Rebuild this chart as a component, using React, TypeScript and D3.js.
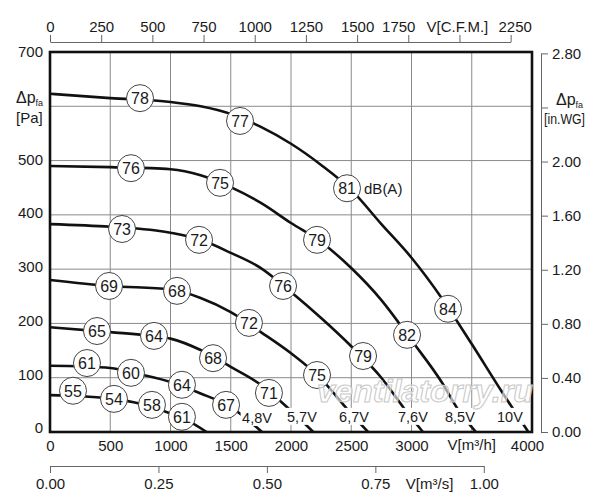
import * as d3 from "d3";
import { useEffect, useRef } from "react";

const W = 600;
const H = 500;
const FONT = "'Liberation Sans', Arial, Helvetica, sans-serif";
const CFM_TO_M3H = 1.699;
const INWG_TO_PA = 249.09;

// axis ticks
const flowTicks = [0, 500, 1000, 1500, 2000, 2500, 3000, 3500, 4000];
const paTicks = [0, 100, 200, 300, 400, 500, 600, 700];
const inwgTicks = [0, 0.4, 0.8, 1.2, 1.6, 2.0, 2.4, 2.8];
const cfmTicks = [0, 250, 500, 750, 1000, 1250, 1500, 1750, 2000, 2250];
const m3sTicks = [0, 0.25, 0.5, 0.75, 1.0];

// fan curves, [V m3/h, dp Pa]
const curve10V = [[0, 623], [500, 615], [1000, 608], [1250, 600], [1500, 586], [1750, 562], [2000, 531], [2250, 492], [2500, 446], [2750, 383], [3000, 321], [3250, 247], [3500, 162], [3750, 74], [3970, 0]];
const curve85V = [[0, 490], [500, 488], [1000, 484], [1250, 473], [1500, 451], [1750, 422], [2000, 385], [2250, 350], [2500, 302], [2750, 243], [3000, 169], [3250, 92], [3390, 40], [3535, 0]];
const curve76V = [[0, 383], [500, 378], [1000, 367], [1250, 354], [1500, 330], [1750, 302], [2000, 258], [2250, 210], [2500, 158], [2750, 100], [2950, 40], [3095, 0]];
const curve67V = [[0, 280], [500, 269], [1000, 263], [1250, 247], [1500, 221], [1750, 184], [2000, 145], [2250, 98], [2475, 40], [2640, 0]];
const curve57V = [[0, 193], [500, 184], [850, 177], [1000, 172], [1250, 151], [1500, 120], [1750, 87], [2000, 39], [2185, 0]];
const curve48V = [[0, 122], [250, 121], [500, 118], [750, 106], [1000, 92], [1250, 71], [1500, 46], [1760, 0]];
const curveLow = [[0, 68], [250, 66], [500, 62], [750, 52], [1000, 34], [1150, 20], [1300, 0]];

// sound level markers, [V m3/h, dp Pa, dB(A)]
const dba10V = [[747, 615, 78], [1577, 573, 77], [2465, 449, 81], [3303, 227, 84]];
const dba85V = [[672, 486, 76], [1411, 459, 75], [2216, 354, 79], [2963, 179, 82]];
const dba76V = [[598, 374, 73], [1237, 354, 72], [1934, 269, 76], [2598, 140, 79]];
const dba67V = [[490, 269, 69], [1054, 260, 68], [1651, 201, 72], [2216, 105, 75]];
const dba57V = [[390, 186, 65], [863, 177, 64], [1353, 136, 68], [1817, 72, 71]];
const dba48V = [[307, 127, 61], [672, 109, 60], [1095, 87, 64], [1461, 50, 67]];
const dbaLow = [[191, 76, 55], [531, 61, 54], [846, 50, 58], [1095, 28, 61]];

// voltage labels, [V m3/h, dp Pa]
const voltNames = ["4,8V", "5,7V", "6,7V", "7,6V", "8,5V", "10V"];
const voltPos = [[1718, 26], [2091, 28], [2523, 28], [3012, 28], [3402, 28], [3817, 28]];

export default function App() {
  const ref = useRef<SVGSVGElement>(null);

  useEffect(() => {
    if (!ref.current) return;
    const svg = d3.select(ref.current);
    svg.selectAll("*").remove();

    const x = d3.scaleLinear().domain([0, 4000]).range([50, 532]);
    const y = d3.scaleLinear().domain([0, 700]).range([432, 52]);
    const yLab = d3.scaleLinear().domain([0, 700]).range([428, 52]);
    const xCfm = d3.scaleLinear().domain([0, 2250]).range([x(0), x(2250 * CFM_TO_M3H)]);
    const xM3s = d3.scaleLinear().domain([0, 1]).range([x(0), x(3600)]);
    const yIn = d3.scaleLinear().domain([0, 2.8]).range([y(0), y(2.8 * INWG_TO_PA)]);

    svg.append("rect").attr("width", W).attr("height", H).attr("fill", "#fff");

    // grid
    const grid = svg.append("g").attr("stroke", "#8a8a8a").attr("stroke-width", 1);
    grid.selectAll(".gv")
      .data(flowTicks.slice(1, -1))
      .join("line")
      .attr("class", "gv")
      .attr("x1", (d) => x(d)).attr("x2", (d) => x(d))
      .attr("y1", y(0)).attr("y2", y(700));
    grid.selectAll(".gh")
      .data(paTicks.slice(1, -1))
      .join("line")
      .attr("class", "gh")
      .attr("x1", x(0)).attr("x2", x(4000))
      .attr("y1", (d) => y(d)).attr("y2", (d) => y(d));

    const series = [
      { pts: curveLow, dba: dbaLow },
      { pts: curve48V, dba: dba48V },
      { pts: curve57V, dba: dba57V },
      { pts: curve67V, dba: dba67V },
      { pts: curve76V, dba: dba76V },
      { pts: curve85V, dba: dba85V },
      { pts: curve10V, dba: dba10V },
    ];

    const line = d3.line<number[]>()
      .x((d) => x(d[0]))
      .y((d) => y(d[1]))
      .curve(d3.curveMonotoneX);

    svg.append("g")
      .selectAll("path")
      .data(series)
      .join("path")
      .attr("d", (s) => line(s.pts))
      .attr("fill", "none")
      .attr("stroke", "#111")
      .attr("stroke-width", 2.6);

    // voltage labels with white box that breaks the curve
    voltNames.forEach((name, i) => {
      const g = svg.append("g");
      const t = g.append("text")
        .attr("x", x(voltPos[i][0]))
        .attr("y", y(voltPos[i][1]))
        .attr("dy", "0.35em")
        .attr("text-anchor", "middle")
        .attr("font-family", FONT)
        .attr("font-size", 14.5)
        .attr("fill", "#1a1a1a")
        .text(name);
      const b = (t.node() as SVGTextElement).getBBox();
      g.insert("rect", "text")
        .attr("x", b.x - 1.5)
        .attr("y", b.y - 1)
        .attr("width", b.width + 3)
        .attr("height", b.height + 1)
        .attr("fill", "#fff");
    });

    // dB(A) markers
    const marks = svg.append("g");
    series.forEach((s) => {
      const m = marks.selectAll(null)
        .data(s.dba)
        .join("g")
        .attr("transform", (d) => `translate(${x(d[0])},${y(d[1])})`);
      m.append("circle")
        .attr("r", 13.5)
        .attr("fill", "#fff")
        .attr("stroke", "#444")
        .attr("stroke-width", 1);
      m.append("text")
        .attr("text-anchor", "middle")
        .attr("dy", "0.36em")
        .attr("font-family", FONT)
        .attr("font-size", 16)
        .attr("fill", "#1a1a1a")
        .text((d) => d[2]);
    });
    const d81 = dba10V[2];
    svg.append("text")
      .attr("x", x(d81[0]) + 17)
      .attr("y", y(d81[1]))
      .attr("dy", "0.36em")
      .attr("font-family", FONT)
      .attr("font-size", 15)
      .attr("fill", "#1a1a1a")
      .text("dB(A)");

    // plot frame
    svg.append("rect")
      .attr("x", x(0)).attr("y", y(700))
      .attr("width", x(4000) - x(0))
      .attr("height", y(0) - y(700))
      .attr("fill", "none")
      .attr("stroke", "#111")
      .attr("stroke-width", 2.6);

    const styleAxis = (g: d3.Selection<SVGGElement, unknown, null, undefined>) => {
      g.attr("font-family", FONT).attr("font-size", 15);
      g.selectAll("text").attr("fill", "#1a1a1a");
      g.selectAll("path, line").attr("stroke", "#666");
    };

    // top C.F.M. axis
    const top = svg.append("g")
      .attr("transform", "translate(0,42)")
      .call(d3.axisTop(xCfm).tickValues(cfmTicks).tickSize(7).tickSizeOuter(0).tickPadding(3)
        .tickFormat((d) => (d === 2000 ? "" : String(d))));
    styleAxis(top);
    top.selectAll<SVGTextElement, number>("text")
      .attr("dx", (d) => (d === 1750 ? -10 : d === 2250 ? 4 : 0));
    svg.append("text")
      .attr("x", xCfm(2000) - 2).attr("y", 32)
      .attr("text-anchor", "middle")
      .attr("font-family", FONT).attr("font-size", 15).attr("fill", "#1a1a1a")
      .text("V[C.F.M.]");

    // bottom m3/h labels
    const bot = svg.append("g")
      .attr("transform", `translate(0,${y(0)})`)
      .call(d3.axisBottom(x).tickValues(flowTicks).tickSize(0).tickPadding(8)
        .tickFormat((d) => (d === 3500 ? "" : String(d))));
    styleAxis(bot);
    bot.select(".domain").remove();
    bot.selectAll<SVGTextElement, number>("text").attr("dx", (d) => (d === 4000 ? -5 : 0));
    svg.append("text")
      .attr("x", x(3500)).attr("y", 450)
      .attr("text-anchor", "middle")
      .attr("font-family", FONT).attr("font-size", 15).attr("fill", "#1a1a1a")
      .text("V[m³/h]");

    // bottom m3/s axis
    const bs = svg.append("g")
      .attr("transform", "translate(0,466)")
      .call(d3.axisBottom(xM3s).tickValues(m3sTicks).tickSize(7).tickSizeOuter(0).tickPadding(5)
        .tickFormat(d3.format(".2f")));
    styleAxis(bs);
    svg.append("text")
      .attr("x", (xM3s(0.75) + xM3s(1)) / 2).attr("y", 489)
      .attr("text-anchor", "middle")
      .attr("font-family", FONT).attr("font-size", 15).attr("fill", "#1a1a1a")
      .text("V[m³/s]");

    // left Pa labels
    const left = svg.append("g")
      .attr("transform", `translate(${x(0)},0)`)
      .call(d3.axisLeft(yLab).tickValues(paTicks).tickSize(0).tickPadding(7)
        .tickFormat((d) => (d === 600 ? "" : String(d))));
    styleAxis(left);
    left.select(".domain").remove();
    const lt = svg.append("text").attr("x", 16).attr("y", 103)
      .attr("font-family", FONT).attr("font-size", 16).attr("fill", "#1a1a1a");
    lt.append("tspan").text("Δp");
    lt.append("tspan").attr("font-size", 9).attr("dy", 3).text("fa");
    svg.append("text").attr("x", 16).attr("y", 123)
      .attr("font-family", FONT).attr("font-size", 15).attr("fill", "#1a1a1a")
      .text("[Pa]");

    // right in.WG axis
    const right = svg.append("g")
      .attr("transform", "translate(541,0)")
      .call(d3.axisRight(yIn).tickValues(inwgTicks).tickSize(7).tickSizeOuter(0).tickPadding(4)
        .tickFormat((d) => (Math.abs(+d - 2.4) < 1e-6 ? "" : d3.format(".2f")(d))));
    styleAxis(right);
    const rt = svg.append("text").attr("x", 556).attr("y", 105)
      .attr("font-family", FONT).attr("font-size", 16).attr("fill", "#1a1a1a");
    rt.append("tspan").text("Δp");
    rt.append("tspan").attr("font-size", 9).attr("dy", 3).text("fa");
    svg.append("text").attr("x", 544).attr("y", 124)
      .attr("font-family", FONT).attr("font-size", 14).attr("fill", "#1a1a1a")
      .attr("textLength", 41).attr("lengthAdjust", "spacingAndGlyphs")
      .text("[in.WG]");

    // watermark
    svg.append("text")
      .attr("x", 425).attr("y", 402)
      .attr("text-anchor", "middle")
      .attr("font-family", FONT).attr("font-style", "italic").attr("font-weight", "bold")
      .attr("font-size", 31)
      .attr("textLength", 216).attr("lengthAdjust", "spacingAndGlyphs")
      .attr("fill", "#fff").attr("fill-opacity", 0.6)
      .attr("stroke", "#c8c8c8").attr("stroke-width", 1)
      .text("ventilatorry.ru");
  }, []);

  return (
    <svg
      ref={ref}
      width={W}
      height={H}
      style={{ position: "absolute", left: 0, top: 0, background: "#fff" }}
    />
  );
}
